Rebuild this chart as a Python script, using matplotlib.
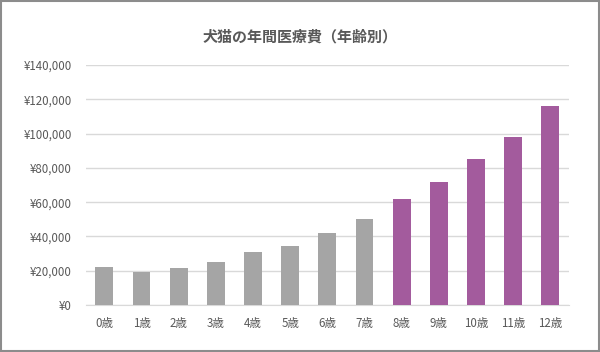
import matplotlib.pyplot as plt
from matplotlib.patches import Rectangle
from matplotlib.ticker import FuncFormatter

plt.rcParams['font.family'] = ['Noto Sans CJK JP', 'DejaVu Sans']

# data
ages = ["0歳", "1歳", "2歳", "3歳", "4歳", "5歳", "6歳", "7歳",
        "8歳", "9歳", "10歳", "11歳", "12歳"]
costs = [22000, 19000, 21500, 25000, 31000, 34500, 41800, 50300,
         61800, 71700, 85300, 98000, 116200]
senior_from = 8  # 8歳 and older drawn in purple

gray = "#A5A5A5"
purple = "#A35B9D"
text_color = "#595959"
colors = [purple if i >= senior_from else gray for i in range(len(ages))]

fig = plt.figure(figsize=(6, 3.52), dpi=100)
ax = fig.add_axes([0.143, 0.1335, 0.805, 0.6818])

x = list(range(len(ages)))
ax.bar(x, costs, width=0.48, color=colors, zorder=3)

ax.set_xlim(-0.5, len(ages) - 0.5)
ax.set_ylim(0, 140000)
ax.set_yticks(range(0, 140001, 20000))
ax.yaxis.set_major_formatter(FuncFormatter(lambda v, p: f"¥{int(v):,}"))
ax.set_xticks(x)
ax.set_xticklabels(ages)

ax.grid(axis="y", color="#D9D9D9", linewidth=1, zorder=0)
ax.spines[["left", "top", "right"]].set_visible(False)
ax.spines["bottom"].set_color("#D9D9D9")
ax.tick_params(axis="both", length=0, labelsize=8.3, colors=text_color)
ax.tick_params(axis="y", pad=10)
ax.tick_params(axis="x", pad=8.5)

fig.text(0.5, 0.895, "犬猫の年間医療費（年齢別）", ha="center", va="center",
         fontsize=10.8, fontweight="bold", color=text_color)

# gray frame around the whole picture
fig.patches.append(Rectangle((0.002, 0.003), 0.996, 0.994, transform=fig.transFigure,
                             fill=False, edgecolor="#8C8C8C", linewidth=1.5))

fig.savefig("out.png", dpi=100)
